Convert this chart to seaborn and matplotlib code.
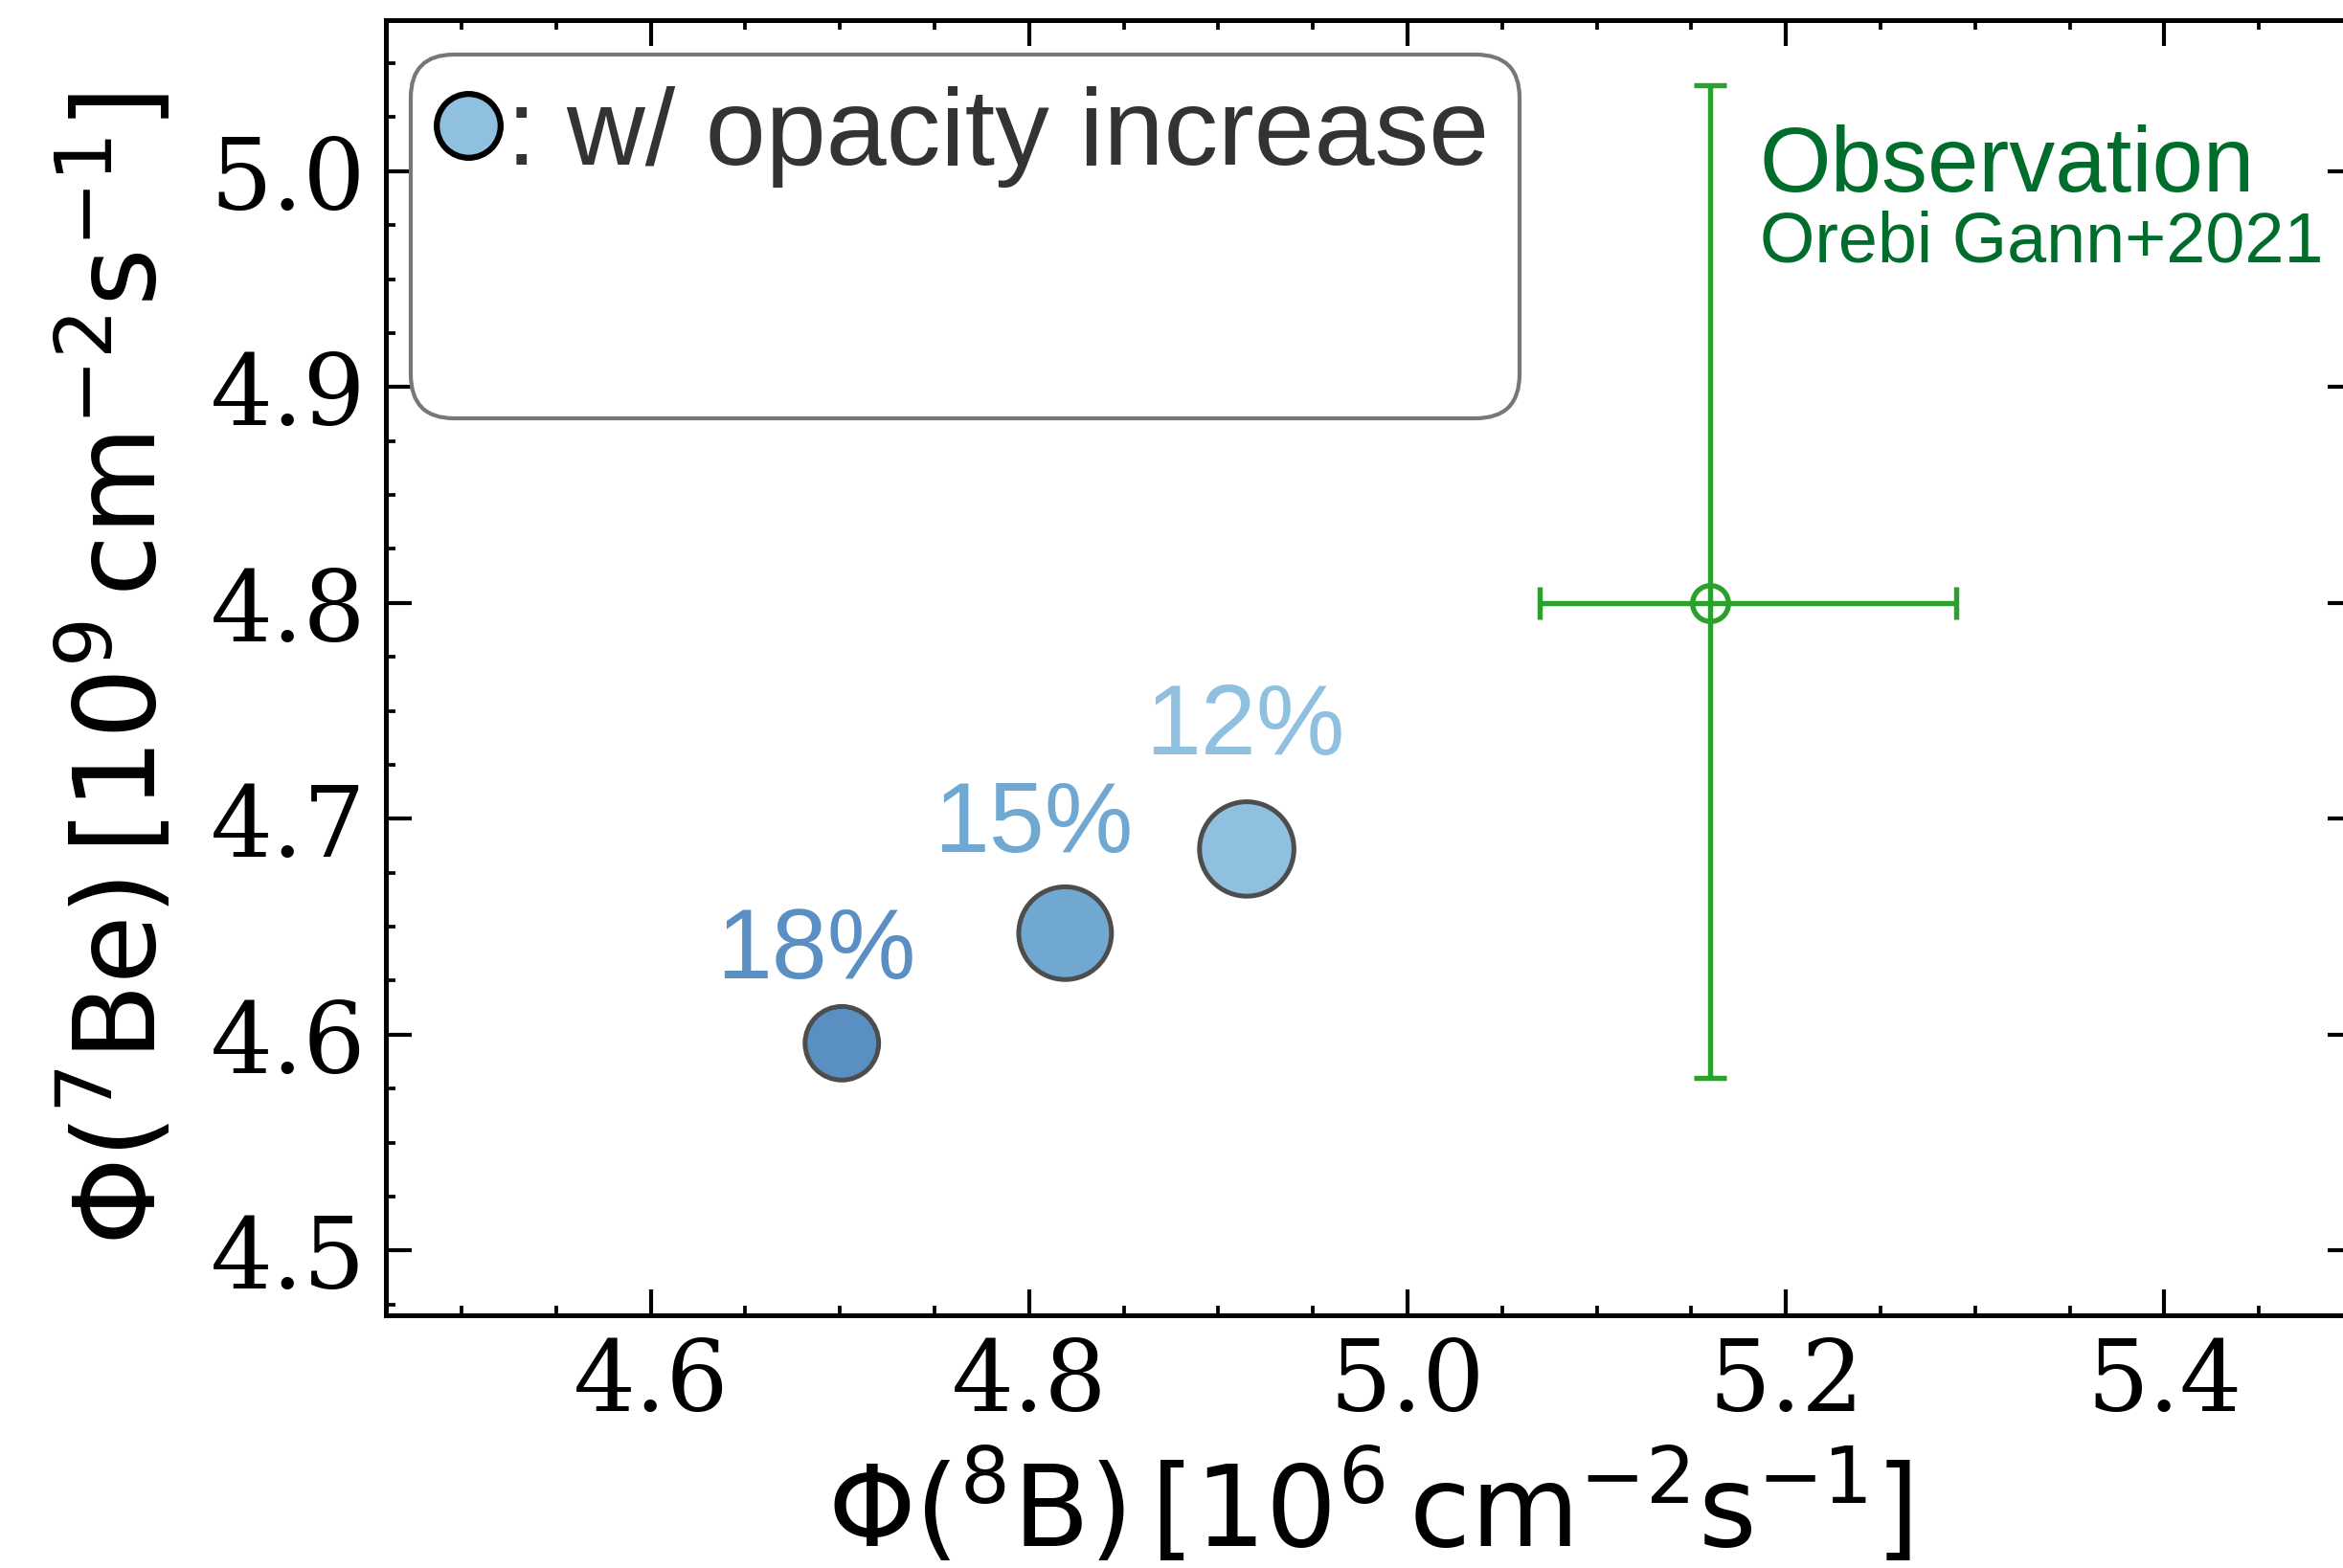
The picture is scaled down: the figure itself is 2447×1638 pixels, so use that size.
import numpy as np
import pandas as pd
import seaborn as sns
import matplotlib.pyplot as plt
from matplotlib.lines import Line2D
from matplotlib.ticker import MultipleLocator

# Model fluxes for increased opacity cases
opacity_labels = ["12%", "15%", "18%"]
phi_b8 = [4.915, 4.819, 4.701]      # 10^6 cm^-2 s^-1
phi_be7 = [4.686, 4.647, 4.596]     # 10^9 cm^-2 s^-1

# Measured fluxes (Orebi Gann+2021)
obs_b8 = 5.16
obs_b8_err = (0.09, 0.13)
obs_be7 = 4.80
obs_be7_err = (0.22, 0.24)

point_colors = ["#8fc0df", "#71a8d2", "#5a8fc3"]
point_sizes = [560, 540, 340]
label_offsets = [(-0.4, 24.0), (-7.9, 20.6), (-6.4, 16.5)]

sns.set_theme(style="ticks")
plt.rcParams.update({
    "font.family": ["DejaVu Sans"],
    "mathtext.fontset": "dejavusans",
    "axes.linewidth": 1.2,
    "axes.edgecolor": "black",
    "axes.labelcolor": "black",
    "text.color": "black",
    "xtick.color": "black",
    "ytick.color": "black",
    "xtick.labelcolor": "black",
    "ytick.labelcolor": "black",
    "xtick.direction": "in",
    "ytick.direction": "in",
    "xtick.top": True,
    "ytick.right": True,
})

fig = plt.figure(figsize=(2447 / 300, 1639 / 300), dpi=300)
ax = fig.add_axes([0.1647, 0.1611, 0.8398, 0.8255])

df = pd.DataFrame({"b8": phi_b8, "be7": phi_be7, "case": opacity_labels})
sns.scatterplot(
    data=df, x="b8", y="be7", hue="case", size="case",
    palette=dict(zip(opacity_labels, point_colors)),
    sizes=dict(zip(opacity_labels, point_sizes)),
    edgecolor="#4d4d4d", linewidth=1.2, legend=False, ax=ax, zorder=3,
)

for lbl, x, y, c, off in zip(opacity_labels, phi_b8, phi_be7, point_colors, label_offsets):
    ax.annotate(lbl, (x, y), xytext=off, textcoords="offset points",
                ha="center", va="baseline", fontsize=25, color=c,
                family="Liberation Sans")

ax.errorbar(
    obs_b8, obs_be7,
    xerr=[[obs_b8_err[0]], [obs_b8_err[1]]],
    yerr=[[obs_be7_err[0]], [obs_be7_err[1]]],
    fmt="o", ms=9, mfc="none", mec="#2ca02c", mew=1.3,
    ecolor="#2ca02c", elinewidth=1.3, capsize=4, capthick=1.3, zorder=2,
)
ax.text(5.186, 4.991, "Observation", color="#006d2c", fontsize=23,
        family="Liberation Sans", ha="left", va="baseline")
ax.text(5.186, 4.9585, "Orebi Gann+2021", color="#006d2c", fontsize=17.7,
        family="Liberation Sans", ha="left", va="baseline")

ax.set_xlim(4.46, 5.50)
ax.set_ylim(4.47, 5.07)
ax.xaxis.set_major_locator(MultipleLocator(0.2))
ax.xaxis.set_minor_locator(MultipleLocator(0.05))
ax.yaxis.set_major_locator(MultipleLocator(0.1))
ax.yaxis.set_minor_locator(MultipleLocator(0.025))
ax.tick_params(which="major", length=6.5, width=1.0, labelsize=24.5, pad=5)
ax.tick_params(which="minor", length=2.5, width=0.9)
for lab in ax.get_xticklabels() + ax.get_yticklabels():
    lab.set_family("DejaVu Serif")

ax.set_xlabel(r"$\Phi(^{8}\mathrm{B})\,[10^{6}\,\mathrm{cm^{-2}s^{-1}}]$",
              fontsize=28, labelpad=5)
ax.set_ylabel(r"$\Phi(^{7}\mathrm{Be})\,[10^{9}\,\mathrm{cm^{-2}s^{-1}}]$",
              fontsize=28, labelpad=7.5)

handles = [
    Line2D([], [], marker="o", ls="none", markersize=16,
           markerfacecolor="#8fc0df", markeredgecolor="black", markeredgewidth=1.5),
    Line2D([], [], ls="none"),
]
leg = ax.legend(handles, [": w/ opacity increase", " "],
                loc="upper left", bbox_to_anchor=(0.0127, 0.9734), borderaxespad=0,
                prop={"family": "Liberation Sans", "size": 27.2},
                borderpad=0.28, labelspacing=0.92,
                handlelength=0.5, handletextpad=0.1, frameon=True, fancybox=True)
for t in leg.get_texts():
    t.set_color("#333333")
frame = leg.get_frame()
frame.set_edgecolor("#777777")
frame.set_linewidth(1.0)
frame.set_alpha(1)
frame.set_boxstyle("round", pad=0, rounding_size=0.4)

fig.savefig("out.png", dpi=300)
